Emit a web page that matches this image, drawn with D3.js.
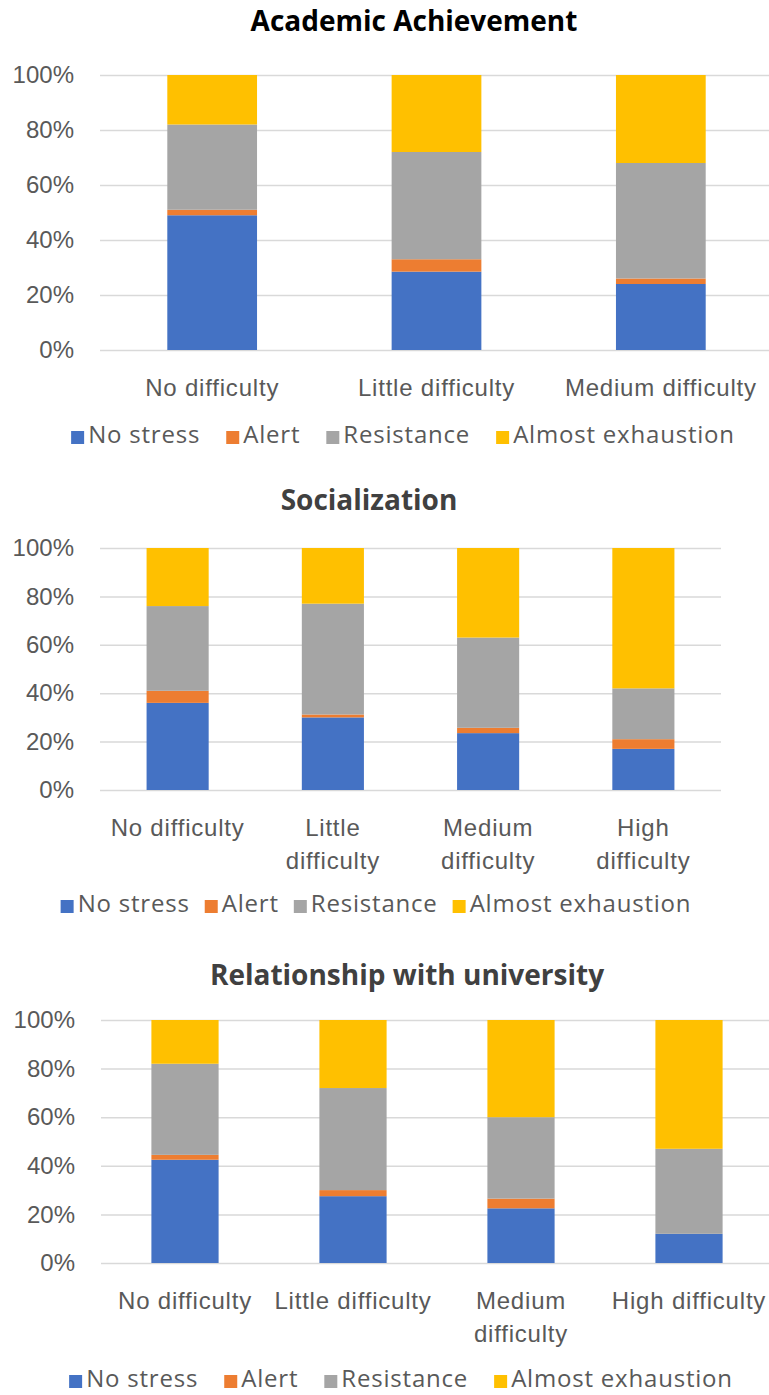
<!DOCTYPE html>
<html>
<head>
<meta charset="utf-8">
<script src="https://cdn.jsdelivr.net/npm/d3@7"></script>
<style>
  body { margin: 0; background: #fff; }
  svg { display: block; font-family: "Open Sans", sans-serif; }
  .tick text { fill: #595959; font-size: 24px; }
  .xlab text, .legend text { font-variant-ligatures: none; letter-spacing: 0.8px; }
  .grid line { stroke: #d9d9d9; stroke-width: 1.5; }
</style>
</head>
<body>
<script>
// stress levels (stack order, bottom to top)
const levels = ["No stress", "Alert", "Resistance", "Almost exhaustion"];
const colors = ["#4472c4", "#ed7d31", "#a5a5a5", "#ffc000"];
const yTicks = [0, 20, 40, 60, 80, 100];

// Academic Achievement
const academicCats = ["No difficulty", "Little difficulty", "Medium difficulty"];
const academicNoStress = [49, 28.5, 24];
const academicAlert = [2, 4.5, 2];
const academicResistance = [31, 39, 42];
const academicExhaustion = [18, 28, 32];

// Socialization
const socialCats = ["No difficulty", "Little\ndifficulty", "Medium\ndifficulty", "High\ndifficulty"];
const socialNoStress = [36, 30, 23.5, 17];
const socialAlert = [5, 1.2, 2.2, 4];
const socialResistance = [35, 45.8, 37.3, 21];
const socialExhaustion = [24, 23, 37, 58];

// Relationship with university
const uniCats = ["No difficulty", "Little difficulty", "Medium\ndifficulty", "High difficulty"];
const uniNoStress = [42.5, 27.5, 22.5, 12];
const uniAlert = [2, 2.5, 4, 0];
const uniResistance = [37.5, 42, 33.5, 35];
const uniExhaustion = [18, 28, 40, 53];

const width = 769, height = 1395;

const svg = d3.select("body")
  .append("svg")
  .attr("width", width)
  .attr("height", height);

const drawChart = cfg => {
  const g = svg.append("g");

  // build rows for d3.stack
  const rows = cfg.cats.map((c, i) => {
    const row = { cat: c };
    levels.forEach((k, j) => (row[k] = cfg.series[j][i]));
    return row;
  });
  const stacked = d3.stack().keys(levels)(rows);

  const x = d3.scaleBand()
    .domain(cfg.cats)
    .range([cfg.left, cfg.right])
    .paddingInner(0.6)
    .paddingOuter(0.3);
  const y = d3.scaleLinear().domain([0, 100]).range([cfg.bottom, cfg.top]);

  // title
  g.append("text")
    .attr("x", cfg.titleX)
    .attr("y", cfg.titleY)
    .attr("text-anchor", "middle")
    .attr("font-size", 28)
    .attr("font-weight", "bold")
    .attr("fill", cfg.titleColor)
    .text(cfg.title);

  // y axis + gridlines
  const yAxis = d3.axisLeft(y)
    .tickValues(yTicks)
    .tickFormat(d => d + "%")
    .tickSize(-(cfg.right - cfg.left))
    .tickPadding(26);
  const yg = g.append("g")
    .attr("class", "grid")
    .attr("transform", `translate(${cfg.left},0)`)
    .call(yAxis);
  yg.select(".domain").remove();

  // bars
  g.selectAll(".layer")
    .data(stacked)
    .enter()
    .append("g")
    .attr("fill", (d, i) => colors[i])
    .selectAll("rect")
    .data(d => d)
    .enter()
    .append("rect")
    .attr("x", d => x(d.data.cat))
    .attr("width", x.bandwidth())
    .attr("y", d => y(d[1]))
    .attr("height", d => y(d[0]) - y(d[1]));

  // x axis labels (may wrap to two lines)
  const xg = g.append("g")
    .attr("class", "xlab")
    .attr("transform", `translate(0,${cfg.bottom})`)
    .call(d3.axisBottom(x).tickSize(0).tickFormat(""));
  xg.select(".domain").remove();
  xg.selectAll(".tick text").each(function(d) {
    const t = d3.select(this).attr("y", 46).attr("dy", 0);
    d.split("\n").forEach((line, i) => {
      t.append("tspan")
        .attr("x", 0)
        .attr("dy", i === 0 ? 0 : 33)
        .text(line);
    });
  });

  // legend
  const lg = g.append("g").attr("class", "legend");
  let pos = 0;
  levels.forEach((k, i) => {
    const item = lg.append("g").attr("transform", `translate(${pos},0)`);
    item.append("rect")
      .attr("x", 0)
      .attr("y", -12)
      .attr("width", 13)
      .attr("height", 13)
      .attr("fill", colors[i]);
    const txt = item.append("text")
      .attr("x", 17)
      .attr("font-size", 24)
      .attr("fill", "#595959")
      .text(k);
    pos += 17 + txt.node().getComputedTextLength() + cfg.legendGap;
  });
  const total = pos - cfg.legendGap;
  lg.attr("transform", `translate(${cfg.legendX - total / 2},${cfg.legendY})`);
};

drawChart({
  title: "Academic Achievement",
  titleColor: "#000",
  titleX: 414, titleY: 31,
  cats: academicCats,
  series: [academicNoStress, academicAlert, academicResistance, academicExhaustion],
  left: 100, right: 773, top: 75, bottom: 350,
  legendX: 403, legendY: 443, legendGap: 26
});

drawChart({
  title: "Socialization",
  titleColor: "#404040",
  titleX: 369, titleY: 510,
  cats: socialCats,
  series: [socialNoStress, socialAlert, socialResistance, socialExhaustion],
  left: 100, right: 721, top: 548, bottom: 790,
  legendX: 376, legendY: 912, legendGap: 15
});

drawChart({
  title: "Relationship with university",
  titleColor: "#404040",
  titleX: 407, titleY: 985,
  cats: uniCats,
  series: [uniNoStress, uniAlert, uniResistance, uniExhaustion],
  left: 101, right: 773, top: 1020, bottom: 1263,
  legendX: 401, legendY: 1387, legendGap: 26
});
</script>
</body>
</html>
